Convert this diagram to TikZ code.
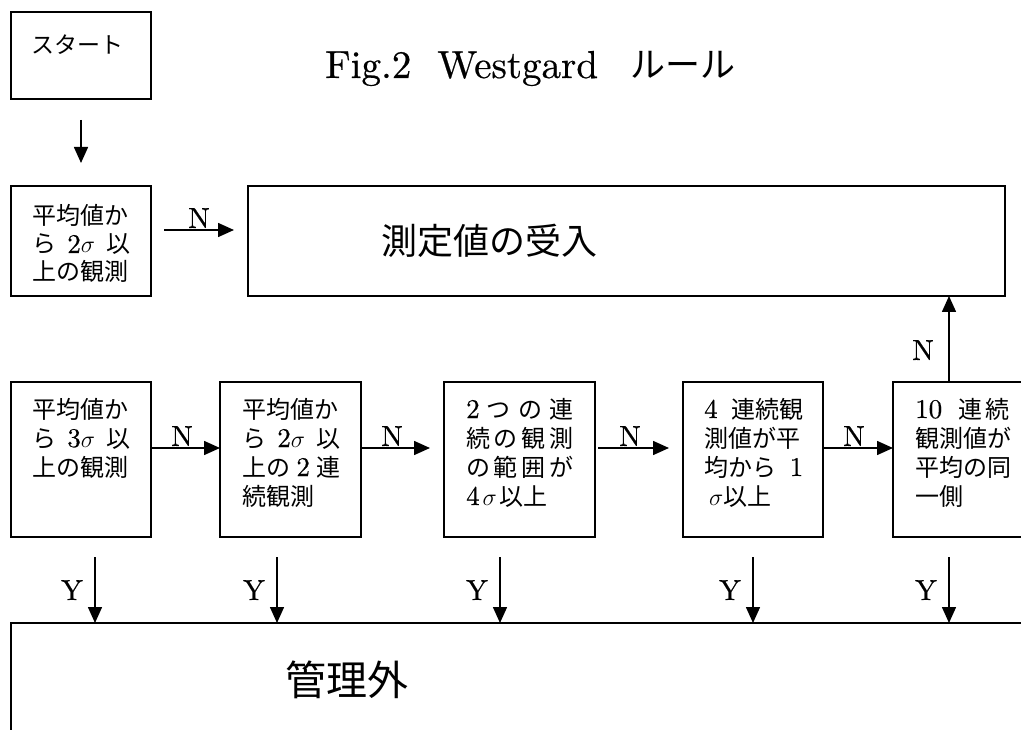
\documentclass[tikz,border=0pt]{standalone}
\usepackage{fix-cm}
\usepackage{fontspec}
\setmainfont{lmroman10-regular.otf}[FakeBold=0.5]
\newfontfamily\jp{Noto Sans CJK JP}
\usetikzlibrary{arrows.meta}
\newcommand\jlines[2]{\vtop{\baselineskip=#1pt\relax #2}}
\newcommand\lm[1]{{\rmfamily\fontsize{27}{29}\selectfont #1}}
\begin{document}
\begin{tikzpicture}[x=1pt,y=-1pt,
  box/.style={draw,line width=1.3pt,inner sep=0pt,outer sep=0pt,anchor=north west},
  arr/.style={line width=1.6pt,-{Triangle[length=16pt,width=14pt]}},
  lbl/.style={inner sep=0pt,anchor=base,font=\fontsize{29}{29}\selectfont},
  txt/.style={inner sep=0pt,anchor=base west,font=\fontsize{24}{29}\selectfont\jp}]
\useasboundingbox (0,0) rectangle (1021,730);
\clip (0,0) rectangle (1021,730);
\fill[white] (0,0) rectangle (1021,730);

% title
\node[inner sep=0pt,anchor=base west,font=\fontsize{39}{39}\selectfont] (title) at (325,78)
  {Fig.2\hspace{26pt}Westgard\hspace{32pt}{\jp\fontsize{35}{35}\selectfont ルール}};

% start
\node[box,minimum width=140pt,minimum height=87pt] (start) at (11,12) {};
\node[txt,font=\fontsize{23}{23}\selectfont\jp] (tstart) at (31,54) {スタート};
\coordinate (s0) at (81,120);
\coordinate (s1) at (81,163);
\draw[arr] (s0) -- (s1);

% first check
\node[box,minimum width=140pt,minimum height=110pt] (a) at (11,186) {};
\node[txt] (ta) at (32,225) {\jlines{28}{%
  \hbox{平均値か}%
  \hbox to 98pt{ら\hfil\lm{2}$\sigma$\hfil 以}%
  \hbox{上の観測}}};

% accept box
\node[box,minimum width=757pt,minimum height=110pt] (recv) at (248,186) {};
\node[inner sep=0pt,anchor=base west,font=\fontsize{36}{36}\selectfont\jp] (trecv) at (381,255) {測定値の受入};

\coordinate (n0a) at (164,230);
\coordinate (n0b) at (234,230);
\draw[arr] (n0a) -- (n0b);
\node[lbl] (ln0) at (199,228) {N};

% row 2 boxes
\node[box,minimum width=140pt,minimum height=155pt] (b1) at (11,382) {};
\node[box,minimum width=141pt,minimum height=155pt] (b2) at (220,382) {};
\node[box,minimum width=151pt,minimum height=155pt] (b3) at (444,382) {};
\node[box,minimum width=140pt,minimum height=155pt] (b4) at (683,382) {};
\node[box,minimum width=200pt,minimum height=155pt] (b5) at (893,382) {};

\node[txt] (t1) at (32,418) {\jlines{29}{%
  \hbox{平均値か}%
  \hbox to 98pt{ら\hfil\lm{3}$\sigma$\hfil 以}%
  \hbox{上の観測}}};
\node[txt] (t2) at (242,418) {\jlines{29}{%
  \hbox{平均値か}%
  \hbox to 98pt{ら\hfil\lm{2}$\sigma$\hfil 以}%
  \hbox to 98pt{上の\hfil\lm{2}\hfil 連}%
  \hbox{続観測}}};
\node[txt] (t3) at (466,418) {\jlines{29}{%
  \hbox to 107pt{\lm{2}\hfil つ\hfil の\hfil 連}%
  \hbox to 107pt{続\hfil の\hfil 観\hfil 測}%
  \hbox to 107pt{の\hfil 範\hfil 囲\hfil が}%
  \hbox{\lm{4}\hspace{3pt}$\sigma$\hspace{3pt}以上}}};
\node[txt] (t4) at (704,418) {\jlines{29}{%
  \hbox to 99pt{\lm{4}\hfil 連続観}%
  \hbox{測値が平}%
  \hbox to 99pt{均から\hfil\lm{1}}%
  \hbox{\hspace{5pt}$\sigma$以上}}};
\node[txt] (t5) at (915,418) {\jlines{29}{%
  \hbox{\lm{10}\hspace{16pt}連\hspace{3pt}続}%
  \hbox{観測値が}%
  \hbox{平均の同}%
  \hbox{一側}}};

% N arrows row 2
\coordinate (row) at (0,448);
\coordinate (c2) at (430,448);
\coordinate (c3a) at (598,448);
\coordinate (c3b) at (669,448);
\draw[arr] (b1.east |- row) -- (b2.west |- row);
\draw[arr] (b2.east |- row) -- (c2);
\draw[arr] (c3a) -- (c3b);
\draw[arr] (b4.east |- row) -- (b5.west |- row);
\node[lbl] (ln1) at (182,446) {N};
\node[lbl] (ln2) at (392,446) {N};
\node[lbl] (ln3) at (630,446) {N};
\node[lbl] (ln4) at (854,446) {N};

% vertical N arrow
\coordinate (vx) at (949,0);
\draw[arr] (vx |- b5.north) -- (vx |- recv.south);
\node[lbl] (ln5) at (923,360) {N};

% out of control box
\node[box,minimum width=1100pt,minimum height=200pt] (ng) at (11,623) {};
\node[inner sep=0pt,anchor=base west,font=\fontsize{41}{41}\selectfont\jp] (tng) at (285,695) {管理外};

% Y arrows
\coordinate (y1) at (95,557);
\coordinate (y2) at (277,557);
\coordinate (y3) at (500,557);
\coordinate (y4) at (753,557);
\coordinate (y5) at (949,557);
\foreach \c in {y1,y2,y3,y4,y5}{
  \draw[arr] (\c) -- (\c |- ng.north);
}
\node[lbl] (ly1) at (72,600) {Y};
\node[lbl] (ly2) at (254,600) {Y};
\node[lbl] (ly3) at (477,600) {Y};
\node[lbl] (ly4) at (730,600) {Y};
\node[lbl] (ly5) at (926,600) {Y};
\end{tikzpicture}
\end{document}
